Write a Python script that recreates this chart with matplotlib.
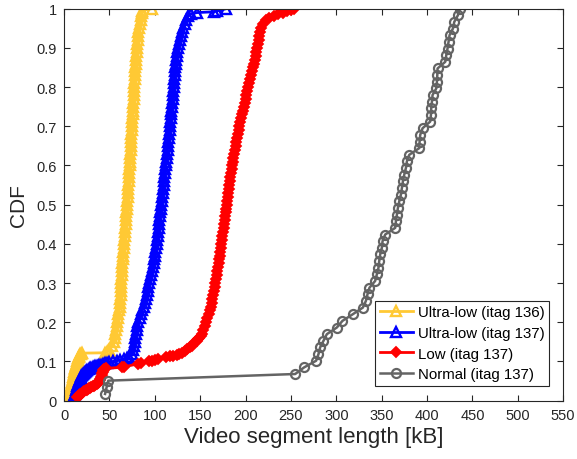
import matplotlib
matplotlib.use("Agg")
import matplotlib.pyplot as plt

plt.rcParams['font.family'] = ['Liberation Sans', 'DejaVu Sans']

# ---- data: segment size (kB) and CDF value ----
ul136_kb = [5.0, 5.4, 5.8, 6.2, 6.5, 6.9, 7.2, 7.6, 8.0, 8.4, 8.8, 9.1, 9.5, 9.9, 10.3, 10.6, 11.0,
            11.4, 11.8, 12.2, 12.6, 13.0, 13.5, 14.0, 14.5, 15.0, 15.6, 16.3, 17.0, 17.8, 18.7, 20.0,
            45.5, 47.0, 48.0, 49.0,
            50.0, 52.5, 54.5, 55.7, 56.6, 57.4, 58.1, 58.8, 59.4, 60.0, 60.6, 61.2, 61.7, 62.0, 62.3,
            62.6, 62.9, 63.1, 63.3, 63.5, 63.7, 64.0, 64.4, 64.8, 65.2, 65.5, 65.9, 66.2, 66.5, 66.9,
            67.2, 67.5, 67.8, 68.1, 68.5, 68.8, 69.1, 69.4, 69.7, 70.0, 70.3, 70.6, 70.9, 71.2, 71.5,
            71.8, 72.0, 72.3, 72.6, 72.8, 73.1, 73.3, 73.6, 73.8, 74.1, 74.3, 74.6, 74.8, 75.1, 75.3,
            75.6, 75.8, 76.1, 76.3, 76.6, 76.8, 77.1, 77.3, 77.6, 77.8, 78.1, 78.4, 78.7, 79.0, 79.3,
            79.6, 79.9, 80.2, 80.6, 81.0, 81.5, 82.0, 82.8, 83.6, 84.3, 85.0, 85.8, 86.3, 96.5]
ul136_cdf = [0.004, 0.008, 0.012, 0.016, 0.020, 0.024, 0.028, 0.032, 0.036, 0.040, 0.044, 0.048,
             0.052, 0.056, 0.060, 0.064, 0.068, 0.072, 0.076, 0.080, 0.084, 0.088, 0.092, 0.096,
             0.100, 0.104, 0.108, 0.112, 0.115, 0.118, 0.120, 0.121,
             0.122, 0.124, 0.126, 0.128,
             0.13, 0.14, 0.15, 0.16, 0.17, 0.18, 0.19, 0.20, 0.21, 0.22, 0.23, 0.24, 0.25, 0.26, 0.27,
             0.28, 0.29, 0.30, 0.31, 0.32, 0.33, 0.34, 0.35, 0.36, 0.37, 0.38, 0.39, 0.40, 0.41, 0.42,
             0.43, 0.44, 0.45, 0.46, 0.47, 0.48, 0.49, 0.50, 0.51, 0.52, 0.53, 0.54, 0.55, 0.56, 0.57,
             0.58, 0.59, 0.60, 0.61, 0.62, 0.63, 0.64, 0.65, 0.66, 0.67, 0.68, 0.69, 0.70, 0.71, 0.72,
             0.73, 0.74, 0.75, 0.76, 0.77, 0.78, 0.79, 0.80, 0.81, 0.82, 0.83, 0.84, 0.85, 0.86, 0.87,
             0.88, 0.89, 0.90, 0.91, 0.92, 0.93, 0.94, 0.95, 0.96, 0.97, 0.98, 0.99, 0.995, 1.0]

ul137_kb = [10.3, 11.0, 11.5, 12.2, 12.8, 13.4, 14.0, 14.8, 15.5, 16.2, 17.0, 17.8, 18.5, 19.2, 20.0,
            21.0, 22.0, 23.2, 24.5, 25.8, 27.0, 28.5, 30.0, 31.5, 33.0, 34.5, 36.0, 37.5, 39.0, 41.0,
            43.0, 45.0, 47.0, 50.0, 54.0, 58.0, 62.0, 66.0, 69.0, 72.0, 74.5,
            76.4, 77.3, 78.1, 78.7, 79.3, 80.0, 80.8, 82.0, 83.3, 84.7, 86.2, 87.8, 89.0, 90.0, 91.0,
            92.0, 93.0, 94.0, 95.1, 96.2, 97.2, 98.0, 98.8, 99.5, 100.1, 100.7, 101.3, 101.9, 102.5,
            103.0, 103.6, 104.1, 104.6, 105.1, 105.6, 106.1, 106.6, 107.1, 107.6, 108.1, 108.6, 109.1,
            109.6, 110.1, 110.6, 111.1, 111.6, 112.1, 112.6, 113.1, 113.6, 114.1, 114.6, 115.0, 115.5,
            116.0, 116.4, 116.8, 117.2, 117.6, 118.0, 118.4, 118.8, 119.2, 119.6, 120.0, 120.4, 120.8,
            121.2, 121.6, 122.0, 122.4, 122.8, 123.2, 123.6, 124.1, 124.7, 125.5, 126.5, 127.6, 128.8,
            130.0, 131.3, 132.8, 134.5, 136.5, 140.0, 146.5, 165.0, 168.0, 179.0]
ul137_cdf = [0.003, 0.008, 0.012, 0.017, 0.022, 0.027, 0.032, 0.037, 0.042, 0.046, 0.050, 0.054,
             0.058, 0.062, 0.065, 0.068, 0.071, 0.074, 0.076, 0.078, 0.080, 0.082, 0.083, 0.085,
             0.086, 0.087, 0.088, 0.089, 0.090, 0.092, 0.093, 0.095, 0.097, 0.098, 0.100, 0.102,
             0.104, 0.106, 0.108, 0.112, 0.120,
             0.13, 0.14, 0.15, 0.16, 0.17, 0.18, 0.19, 0.20, 0.21, 0.22, 0.23, 0.24, 0.25, 0.26, 0.27,
             0.28, 0.29, 0.30, 0.31, 0.32, 0.33, 0.34, 0.35, 0.36, 0.37, 0.38, 0.39, 0.40, 0.41, 0.42,
             0.43, 0.44, 0.45, 0.46, 0.47, 0.48, 0.49, 0.50, 0.51, 0.52, 0.53, 0.54, 0.55, 0.56, 0.57,
             0.58, 0.59, 0.60, 0.61, 0.62, 0.63, 0.64, 0.65, 0.66, 0.67, 0.68, 0.69, 0.70, 0.71, 0.72,
             0.73, 0.74, 0.75, 0.76, 0.77, 0.78, 0.79, 0.80, 0.81, 0.82, 0.83, 0.84, 0.85, 0.86, 0.87,
             0.88, 0.89, 0.90, 0.91, 0.92, 0.93, 0.94, 0.95, 0.96, 0.97, 0.98, 0.987, 0.990, 0.992,
             0.994, 1.0]

low137_kb = [14.0, 15.0, 16.0, 17.0, 18.0, 19.0, 20.0, 21.2, 22.5, 23.8, 25.0, 26.2, 27.5, 28.8, 30.0,
             31.5, 33.0, 34.5, 36.0, 37.3, 38.5, 39.3, 40.0, 40.7, 41.3, 41.9, 42.5, 43.2, 44.0, 46.0,
             63.6, 66.0, 82.0, 85.0, 94.0, 97.0, 100.0, 104.0, 112.0, 117.0, 120.0, 124.0, 127.0,
             130.0, 133.0, 136.0, 138.7, 140.5, 142.3, 144.0, 146.0, 147.5, 149.0, 150.5,
             152.0, 153.3, 154.9, 156.5, 157.8, 159.2, 160.5, 161.5, 162.5, 163.5, 164.3, 165.2, 166.0,
             166.8, 167.5, 168.3, 169.0, 169.6, 170.3, 171.0, 171.6, 172.2, 172.9, 173.5, 174.1, 174.6,
             175.2, 175.8, 176.4, 177.0, 177.6, 178.2, 178.8, 179.3, 179.9, 180.4, 181.0, 181.6, 182.2,
             182.8, 183.4, 184.0, 184.7, 185.3, 186.0, 186.7, 187.5, 188.2, 189.0, 189.8, 190.6, 191.4,
             192.3, 193.2, 194.1, 195.0, 196.0, 197.0, 198.0, 199.0, 200.0, 201.0, 202.1, 203.2, 204.3,
             205.3, 206.3, 207.3, 208.3, 209.2, 210.1, 211.0, 211.9, 212.8, 213.6, 214.4, 215.3, 216.2,
             217.5, 219.5, 223.0, 226.0, 231.0, 236.0, 241.8, 246.0, 250.0, 253.0]
low137_cdf = [0.008, 0.010, 0.012, 0.014, 0.016, 0.018, 0.020, 0.022, 0.024, 0.026, 0.028, 0.030,
              0.032, 0.033, 0.035, 0.036, 0.038, 0.040, 0.042, 0.045, 0.048, 0.052, 0.056, 0.060,
              0.065, 0.070, 0.074, 0.078, 0.081, 0.082,
              0.085, 0.086, 0.094, 0.095, 0.100, 0.102, 0.104, 0.106, 0.110, 0.113, 0.115, 0.117,
              0.119, 0.122, 0.126, 0.131, 0.136, 0.140, 0.145, 0.149, 0.153, 0.156, 0.160, 0.164,
              0.17, 0.18, 0.19, 0.20, 0.21, 0.22, 0.23, 0.24, 0.25, 0.26, 0.27, 0.28, 0.29, 0.30, 0.31,
              0.32, 0.33, 0.34, 0.35, 0.36, 0.37, 0.38, 0.39, 0.40, 0.41, 0.42, 0.43, 0.44, 0.45, 0.46,
              0.47, 0.48, 0.49, 0.50, 0.51, 0.52, 0.53, 0.54, 0.55, 0.56, 0.57, 0.58, 0.59, 0.60, 0.61,
              0.62, 0.63, 0.64, 0.65, 0.66, 0.67, 0.68, 0.69, 0.70, 0.71, 0.72, 0.73, 0.74, 0.75, 0.76,
              0.77, 0.78, 0.79, 0.80, 0.81, 0.82, 0.83, 0.84, 0.85, 0.86, 0.87, 0.88, 0.89, 0.90, 0.91,
              0.92, 0.93, 0.94, 0.95, 0.96, 0.97, 0.976, 0.982, 0.986, 0.990, 0.993, 0.997, 1.0]

normal137_kb = [45.2, 46.9, 48.7, 254.7, 264.6, 277.8, 280.4, 282.2, 285.9, 289.6, 300.6, 306.8, 318.2,
                329.3, 332.6, 334.4, 336.6, 342.8, 344.7, 346.5, 347.3, 348.4, 350.2, 351.0, 353.9,
                364.9, 365.7, 366.8, 367.9, 369.4, 371.2, 372.3, 373.4, 374.9, 376.7, 377.8, 380.4,
                391.4, 391.8, 392.5, 395.1, 403.5, 404.3, 404.6, 405.4, 406.1, 410.2, 410.9, 411.3,
                411.6, 420.1, 421.2, 422.6, 423.7, 424.8, 428.5, 430.0, 434.0, 436.5]
normal137_cdf = [(i + 1) / len(normal137_kb) for i in range(len(normal137_kb))]

labels = ['Ultra-low (itag 136)', 'Ultra-low (itag 137)', 'Low (itag 137)', 'Normal (itag 137)']
x_ticks = [0, 50, 100, 150, 200, 250, 300, 350, 400, 450, 500, 550]
y_ticks = [0, 0.1, 0.2, 0.3, 0.4, 0.5, 0.6, 0.7, 0.8, 0.9, 1]
y_tick_labels = ['0', '0.1', '0.2', '0.3', '0.4', '0.5', '0.6', '0.7', '0.8', '0.9', '1']

# ---- figure ----
fig = plt.figure(figsize=(5.77, 4.60), dpi=100)
ax = fig.add_axes([0.111, 0.127, 0.865, 0.852])

axc = '#262626'
ax.plot(ul136_kb, ul136_cdf, color='#FFC934', lw=2, marker='^', ms=7.5, mfc='none', mew=1.7,
        label=labels[0])
ax.plot(ul137_kb, ul137_cdf, color='#0000FF', lw=2, marker='^', ms=7.5, mfc='none', mew=1.7,
        label=labels[1])
ax.plot(low137_kb, low137_cdf, color='#FF0000', lw=2, marker='D', ms=5.5, mfc='#FF0000', mew=1.3,
        label=labels[2])
ax.plot(normal137_kb, normal137_cdf, color='#646464', lw=1.8, marker='o', ms=6.5, mfc='none', mew=1.6,
        label=labels[3])

ax.set_xlim(0, 550)
ax.set_ylim(0, 1)
ax.set_xticks(x_ticks)
ax.set_yticks(y_ticks)
ax.set_yticklabels(y_tick_labels)
ax.tick_params(direction='in', top=True, right=True, length=4, width=0.8, colors=axc,
               labelsize=10.5, pad=5)
for s in ax.spines.values():
    s.set_color(axc)
    s.set_linewidth(0.8)

ax.set_xlabel('Video segment length [kB]', fontsize=16, color=axc, labelpad=3)
ax.set_ylabel('CDF', fontsize=15, color=axc, labelpad=6)

leg = ax.legend(loc='lower right', bbox_to_anchor=(0.972, 0.0375), borderaxespad=0,
                fontsize=10.8, frameon=True, fancybox=False, framealpha=1,
                handlelength=2.2, handletextpad=0.35, labelspacing=0.45, borderpad=0.3)
leg.get_frame().set_edgecolor(axc)
leg.get_frame().set_linewidth(0.8)
for t in leg.get_texts():
    t.set_color('#000000')

fig.savefig('out.png', dpi=100)
